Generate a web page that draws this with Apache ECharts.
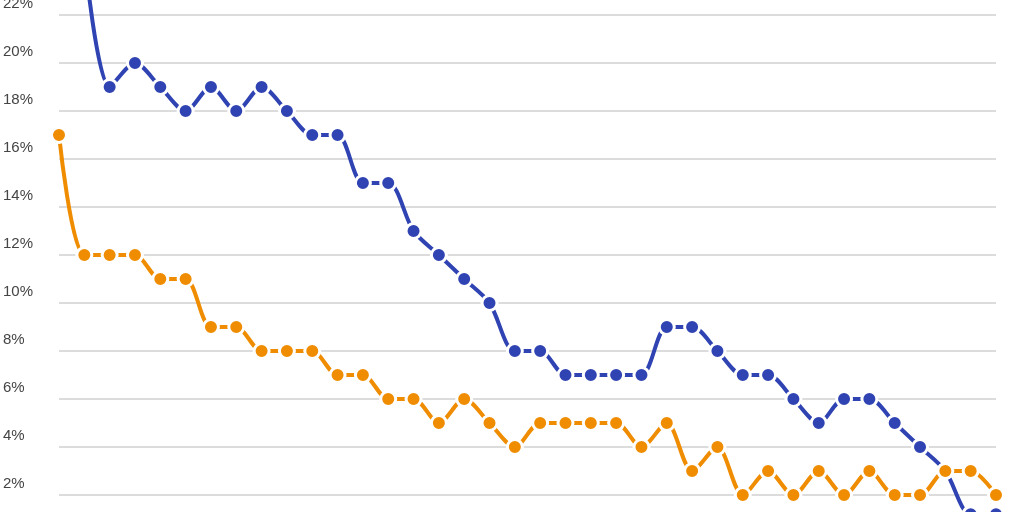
<!DOCTYPE html>
<html><head><meta charset="utf-8">
<script src="https://cdn.jsdelivr.net/npm/echarts@6/dist/echarts.min.js"></script>
<style>html,body{margin:0;padding:0;background:#fff;overflow:hidden;width:1024px;height:512px;position:relative}#c{position:absolute;left:0;top:-33px;width:1024px;height:576px}</style>
</head><body><div id="c"></div>
<script>
const categories = Array.from({length:38},(_,i)=>String(i+1));
const blueValues = [null,24.5,19,20,19,18,19,18,19,18,17,17,15,15,13,12,11,10,8,8,7,7,7,7,9,9,8,7,7,6,5,6,6,5,4,3,1.2,1.2];
const orangeValues = [17,12,12,12,11,11,9,9,8,8,8,7,7,6,6,5,6,5,4,5,5,5,5,4,5,3,4,2,3,2,3,2,3,2,2,3,3,2];
const chart = echarts.init(document.getElementById('c'));
function ser(data,color,z){return {type:'line',data,smooth:0.3,symbol:'circle',symbolSize:15,
 lineStyle:{color,width:4},itemStyle:{color,borderColor:'#fff',borderWidth:3},z};}
chart.setOption({
 animation:false,
 grid:{left:56,right:28,top:0,bottom:0,containLabel:false},
 xAxis:{type:'category',data:categories,boundaryGap:false,show:false},
 yAxis:{type:'value',min:0,max:24,interval:2,
  axisLine:{show:false},axisTick:{show:false},
  splitLine:{lineStyle:{color:'#d0d0d0',width:1.5}},
  axisLabel:{inside:true,verticalAlign:'bottom',margin:-56,padding:[0,0,4,0],color:'#444',fontSize:15,fontFamily:'Liberation Sans',
   formatter:v=>v===0||v===24?'':v+'%'}},
 series:[ser(blueValues,'#2f43b3',2),ser(orangeValues,'#ef8c00',3)]
});
</script></body></html>
